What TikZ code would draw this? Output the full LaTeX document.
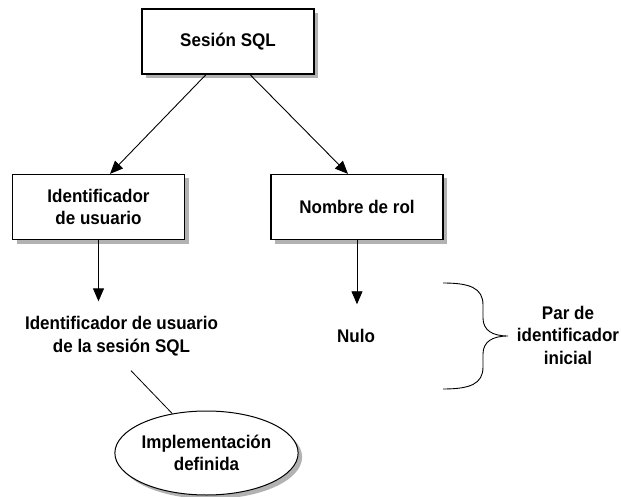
\documentclass[tikz,border=0pt]{standalone}
\usepackage{fontspec}
\setmainfont{Liberation Sans}[FakeStretch=0.93]
\usetikzlibrary{shapes.geometric,arrows.meta,positioning,shadows}

\begin{document}
\begin{tikzpicture}[
    x=1pt,y=-1pt,
    font=\fontsize{18.3}{22.5}\selectfont\bfseries,
    grayshadow/.style={drop shadow={shadow xshift=4pt,shadow yshift=-4pt,fill=black!30,opacity=1}},
    box/.style={rectangle,draw,line width=1.2pt,fill=white,grayshadow,minimum width=172pt,minimum height=65pt,align=center},
    txt/.style={align=center,inner sep=0pt},
    arrow/.style={-{Triangle[length=13pt,width=11pt]},line width=0.9pt},
    oval/.style={ellipse,draw,line width=1pt,fill=white,grayshadow,minimum width=173pt,minimum height=84pt,align=center,inner sep=0pt}
]
    \useasboundingbox (0,0) rectangle (621,497);

    \node[box] (sesion) at (228,41.5) {Sesión SQL};
    \node[box] (usuario) at (98.5,207) {Identificador\\de usuario};
    \node[box] (rol) at (357,207) {Nombre de rol};

    \node[txt,outer ysep=15pt] (idsesion) at (121.5,336) {Identificador de usuario\\de la sesión SQL};
    \node[txt,outer ysep=25pt] (nulo) at (356,336) {Nulo};
    \node[txt] (par) at (568,335) {Par de\\identificador\\inicial};

    \node[oval] (impl) at (206.5,453) {Implementación\\definida};

    \draw[arrow] ([xshift=-22pt]sesion.south) -- ([xshift=11.5pt]usuario.north);
    \draw[arrow] ([xshift=22pt]sesion.south) -- ([xshift=-9pt]rol.north);
    \draw[arrow] (usuario) -- (usuario |- idsesion.north);
    \draw[arrow] (rol) -- (rol |- nulo.north);

    \draw[line width=0.8pt] ([xshift=9.5pt]idsesion.south) -- (impl.131.5);

    % llave del par
    \draw[line width=0.9pt] (443,283) .. controls (470,283) and (483,288) .. (483,305)
        -- (483,318) .. controls (483,330) and (492,336) .. (508,336)
        .. controls (492,336) and (483,342) .. (483,354)
        -- (483,367) .. controls (483,384) and (470,389) .. (443,389);
\end{tikzpicture}
\end{document}
